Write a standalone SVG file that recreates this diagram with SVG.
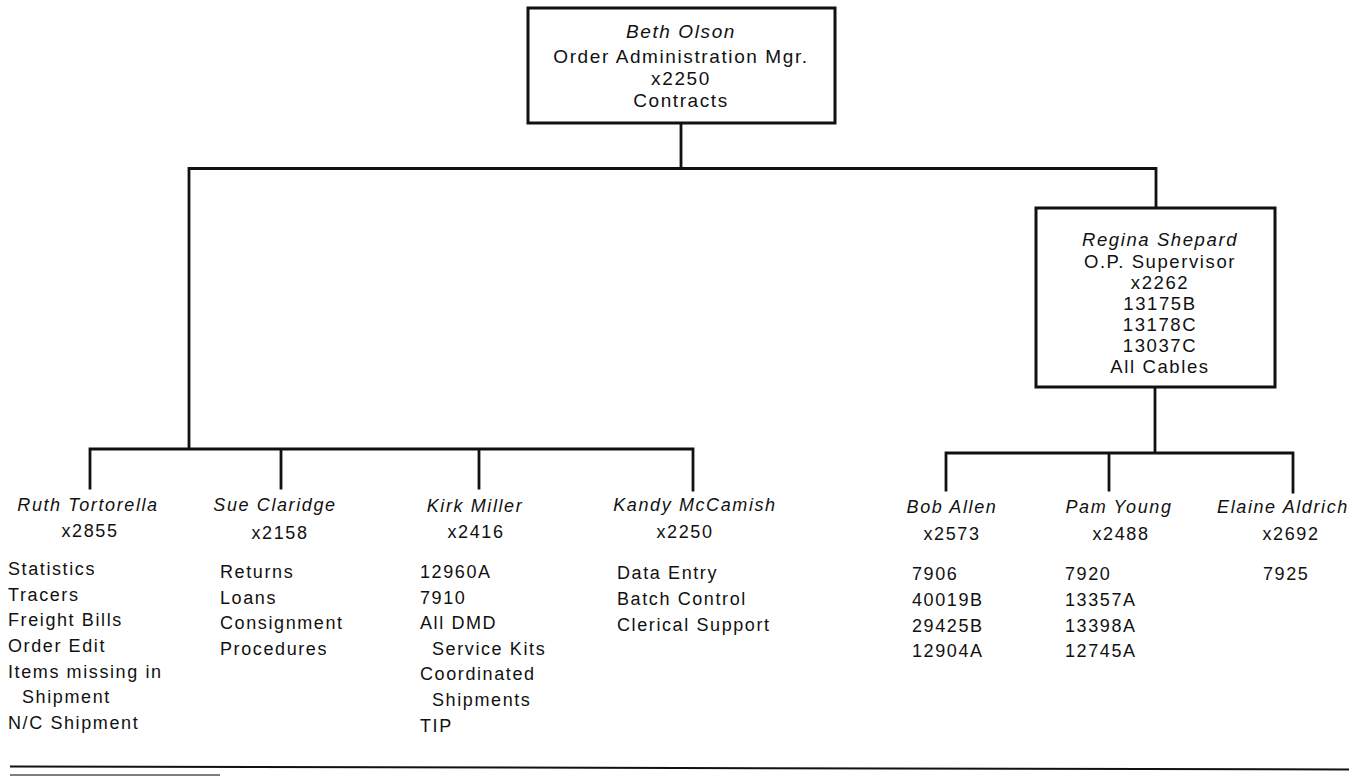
<svg xmlns="http://www.w3.org/2000/svg" width="1364" height="776" viewBox="0 0 1364 776">
<style>
text{font-family:"Liberation Sans",Arial,Helvetica,sans-serif;font-size:18px;fill:#111;letter-spacing:1.6px}
.c{text-anchor:middle}
.n{font-style:italic}
.t{font-size:19px}
.r{font-size:18.5px}
.box{fill:#fff;stroke:#111;stroke-width:3}
.ln{stroke:#111;stroke-width:2.8;fill:none;stroke-linecap:square}
</style>
<rect width="1364" height="776" fill="#fff"/>
<g id="connectors" class="connectors">
<path class="ln" d="M681,123V168.5M189,168.5H1156M189,168.5V449M90,449H693M90,449V488M281,449V488M479,449V488M693,449V490M1156,168.5V208M1155,387V453M946,453H1293M946,453V490M1109,453V490M1293,453V492"/>
</g>
<g id="beth-olson">
<rect class="box" x="528" y="8" width="307" height="115"/>
<text class="c n t" x="681" y="38">Beth Olson</text>
<text class="c t" x="681" y="63">Order Administration Mgr.</text>
<text class="c t" x="681" y="85">x2250</text>
<text class="c t" x="681" y="107">Contracts</text>
</g>
<g id="regina-shepard">
<rect class="box" x="1036" y="208" width="239" height="179"/>
<text class="c n r" x="1160" y="246">Regina Shepard</text>
<text class="c r" x="1160" y="268">O.P. Supervisor</text>
<text class="c r" x="1160" y="289">x2262</text>
<text class="c r" x="1160" y="310">13175B</text>
<text class="c r" x="1160" y="331">13178C</text>
<text class="c r" x="1160" y="352">13037C</text>
<text class="c r" x="1160" y="373">All Cables</text>
</g>
<g id="ruth-tortorella">
<text class="c n" x="88" y="511">Ruth Tortorella</text>
<text class="c" x="90" y="537">x2855</text>
<text x="8" y="575">Statistics</text>
<text x="8" y="600.7">Tracers</text>
<text x="8" y="626.3">Freight Bills</text>
<text x="8" y="652">Order Edit</text>
<text x="8" y="677.7">Items missing in</text>
<text x="22" y="703.3">Shipment</text>
<text x="8" y="729">N/C Shipment</text>
</g>
<g id="sue-claridge">
<text class="c n" x="275" y="511">Sue Claridge</text>
<text class="c" x="280" y="539">x2158</text>
<text x="220" y="578">Returns</text>
<text x="220" y="603.5">Loans</text>
<text x="220" y="629">Consignment</text>
<text x="220" y="655">Procedures</text>
</g>
<g id="kirk-miller">
<text class="c n" x="475" y="511.5">Kirk Miller</text>
<text class="c" x="476" y="538">x2416</text>
<text x="420" y="578">12960A</text>
<text x="420" y="604">7910</text>
<text x="420" y="629">All DMD</text>
<text x="432" y="655">Service Kits</text>
<text x="420" y="680">Coordinated</text>
<text x="432" y="706">Shipments</text>
<text x="420" y="732">TIP</text>
</g>
<g id="kandy-mccamish">
<text class="c n" x="695" y="511">Kandy McCamish</text>
<text class="c" x="685" y="538">x2250</text>
<text x="617" y="579">Data Entry</text>
<text x="617" y="605">Batch Control</text>
<text x="617" y="631">Clerical Support</text>
</g>
<g id="bob-allen">
<text class="c n" x="952" y="513">Bob Allen</text>
<text class="c" x="952" y="540">x2573</text>
<text x="912" y="580">7906</text>
<text x="912" y="606">40019B</text>
<text x="912" y="632">29425B</text>
<text x="912" y="657">12904A</text>
</g>
<g id="pam-young">
<text class="c n" x="1119" y="513">Pam Young</text>
<text class="c" x="1121" y="540">x2488</text>
<text x="1065" y="580">7920</text>
<text x="1065" y="606">13357A</text>
<text x="1065" y="632">13398A</text>
<text x="1065" y="657">12745A</text>
</g>
<g id="elaine-aldrich">
<text class="c n" x="1283" y="513">Elaine Aldrich</text>
<text class="c" x="1291" y="540">x2692</text>
<text x="1263" y="580">7925</text>
</g>
<g id="rules">
<line x1="10" y1="766.5" x2="1349" y2="769.5" stroke="#111" stroke-width="2"/>
<line x1="10" y1="775" x2="220" y2="775" stroke="#555" stroke-width="1.5"/>
</g>
</svg>
